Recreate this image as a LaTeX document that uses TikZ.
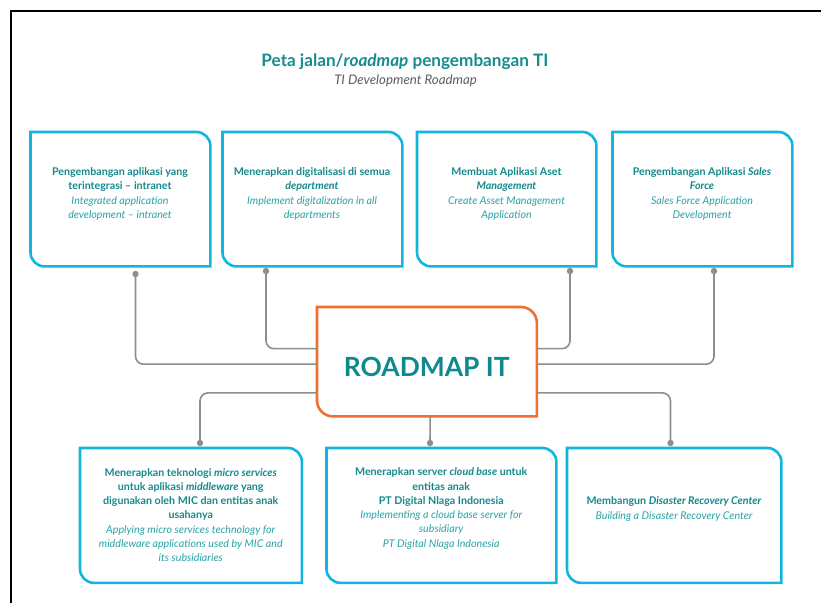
\documentclass[tikz,border=0pt]{standalone}
\usepackage{fontspec}
\setmainfont{Lato}
\definecolor{tealb}{HTML}{14898C}
\definecolor{teali}{HTML}{2AA3A6}
\definecolor{titlec}{HTML}{168C8E}
\definecolor{subc}{HTML}{5E5E5E}
\definecolor{cyanb}{HTML}{12B5E2}
\definecolor{orangeb}{HTML}{F07030}
\definecolor{connc}{HTML}{8E8E8E}
\definecolor{rmtext}{HTML}{0E8A8E}
\newcommand\boxoutline[3]{%
  \draw[#2] (#1.north west) -- ([xshift=-#3]#1.north east)
    arc[start angle=90,end angle=0,radius=#3] -- (#1.south east)
    -- ([xshift=#3]#1.south west) arc[start angle=270,end angle=180,radius=#3] -- cycle;}
\newcommand\bt[1]{{\bfseries\color{tealb}#1}}
\newcommand\itx[1]{{\itshape\color{teali}#1}}
\begin{document}
\begin{tikzpicture}[x=1bp,y=1bp,
  frame/.style={draw=none,inner sep=0,anchor=north west},
  cyanline/.style={draw=cyanb,line width=2.6bp},
  orangeline/.style={draw=orangeb,line width=2.6bp},
  conn/.style={draw=connc,line width=1.6bp,rounded corners=8bp},
  dotmark/.style={fill=connc},
  txt/.style={align=center,inner sep=0,font=\fontsize{10.7}{14.3}\selectfont},
  title/.style={font=\fontsize{17.2}{19}\selectfont\bfseries,text=titlec,inner sep=0},
  subtitle/.style={font=\fontsize{13.3}{15}\selectfont\itshape,text=subc,inner sep=0}]
\useasboundingbox (0,0) rectangle (821,603);
\fill[white] (0,0) rectangle (821,603);
% outer frame (top and left lines only)
\draw[line width=2.2bp,black] (11,0) -- (11,592) -- (821,592);
% title
\node[title] (title) at (405,541) {Peta jalan/\textit{roadmap} pengembangan TI};
\node[subtitle] (subtitle) at (405.5,522) {TI Development Roadmap};
% top boxes
\node[frame,minimum width=179.5bp,minimum height=134bp] (b1) at (30.5,471) {};
\node[frame,minimum width=179.5bp,minimum height=134bp] (b2) at (222.5,471) {};
\node[frame,minimum width=179bp,minimum height=134bp] (b3) at (417,471) {};
\node[frame,minimum width=179.5bp,minimum height=134bp] (b4) at (612.5,471) {};
\boxoutline{b1}{cyanline}{14bp}
\boxoutline{b2}{cyanline}{14bp}
\boxoutline{b3}{cyanline}{14bp}
\boxoutline{b4}{cyanline}{14bp}
\node[txt] (t1) at (120,409) {\bt{Pengembangan aplikasi yang}\\\bt{terintegrasi – intranet}\\\itx{Integrated application}\\\itx{development – intranet}};
\node[txt] (t2) at (312,409) {\bt{Menerapkan digitalisasi di semua}\\\bt{\itshape department}\\\itx{Implement digitalization in all}\\\itx{departments}};
\node[txt] (t3) at (506.5,409) {\bt{Membuat Aplikasi Aset}\\\bt{\itshape Management}\\\itx{Create Asset Management}\\\itx{Application}};
\node[txt] (t4) at (702,409) {\bt{Pengembangan Aplikasi \textit{Sales}}\\\bt{\itshape Force}\\\itx{Sales Force Application}\\\itx{Development}};
% center box
\node[frame,minimum width=219.5bp,minimum height=109bp] (rm) at (317,296) {};
\boxoutline{rm}{orangeline}{16bp}
\node[font=\fontsize{26.5}{30}\selectfont\bfseries,text=rmtext,inner sep=0] (rmt) at (426.75,236.5) {ROADMAP IT};
% bottom boxes
\node[frame,minimum width=221.5bp,minimum height=134.5bp] (b5) at (80,155) {};
\node[frame,minimum width=229.5bp,minimum height=134.5bp] (b6) at (326.5,155) {};
\node[frame,minimum width=214bp,minimum height=134.5bp] (b7) at (567,155) {};
\boxoutline{b5}{cyanline}{14bp}
\boxoutline{b6}{cyanline}{14bp}
\boxoutline{b7}{cyanline}{14bp}
\node[txt] (t5) at (190.75,88) {\bt{Menerapkan teknologi \textit{micro services}}\\\bt{untuk aplikasi \textit{middleware} yang}\\\bt{digunakan oleh MIC dan entitas anak}\\\bt{usahanya}\\\itx{Applying micro services technology for}\\\itx{middleware applications used by MIC and}\\\itx{its subsidiaries}};
\node[txt] (t6) at (441.25,94.5) {\bt{Menerapkan server \textit{cloud base} untuk}\\\bt{entitas anak}\\\bt{PT Digital Nlaga Indonesia}\\\itx{Implementing a cloud base server for}\\\itx{subsidiary}\\\itx{PT Digital Nlaga Indonesia}};
\node[txt] (t7) at (674,94) {\bt{Membangun \textit{Disaster Recovery Center}}\\\itx{Building a Disaster Recovery Center}};
% connector end points
\coordinate (d1) at (135.5,329);
\coordinate (d2) at (266,332);
\coordinate (d3) at (570,332);
\coordinate (d4) at (714,332);
\coordinate (d5) at (200,160);
\coordinate (d6) at (430,160);
\coordinate (d7) at (670.5,160);
\draw[conn] (d1) |- ([yshift=-2.5bp]rm.west);
\draw[conn] (d2) |- ([yshift=13bp]rm.west);
\draw[conn] (d3) |- ([yshift=13bp]rm.east);
\draw[conn] (d4) |- ([yshift=-2.5bp]rm.east);
\draw[conn] ([yshift=-31.2bp]rm.west) -| (d5);
\draw[conn] ([xshift=3.25bp]rm.south) -- (d6);
\draw[conn] ([yshift=-31.2bp]rm.east) -| (d7);
\foreach \d in {d1,d2,d3,d4,d5,d6,d7} \fill[dotmark] (\d) circle (3.2bp);
\end{tikzpicture}
\end{document}
